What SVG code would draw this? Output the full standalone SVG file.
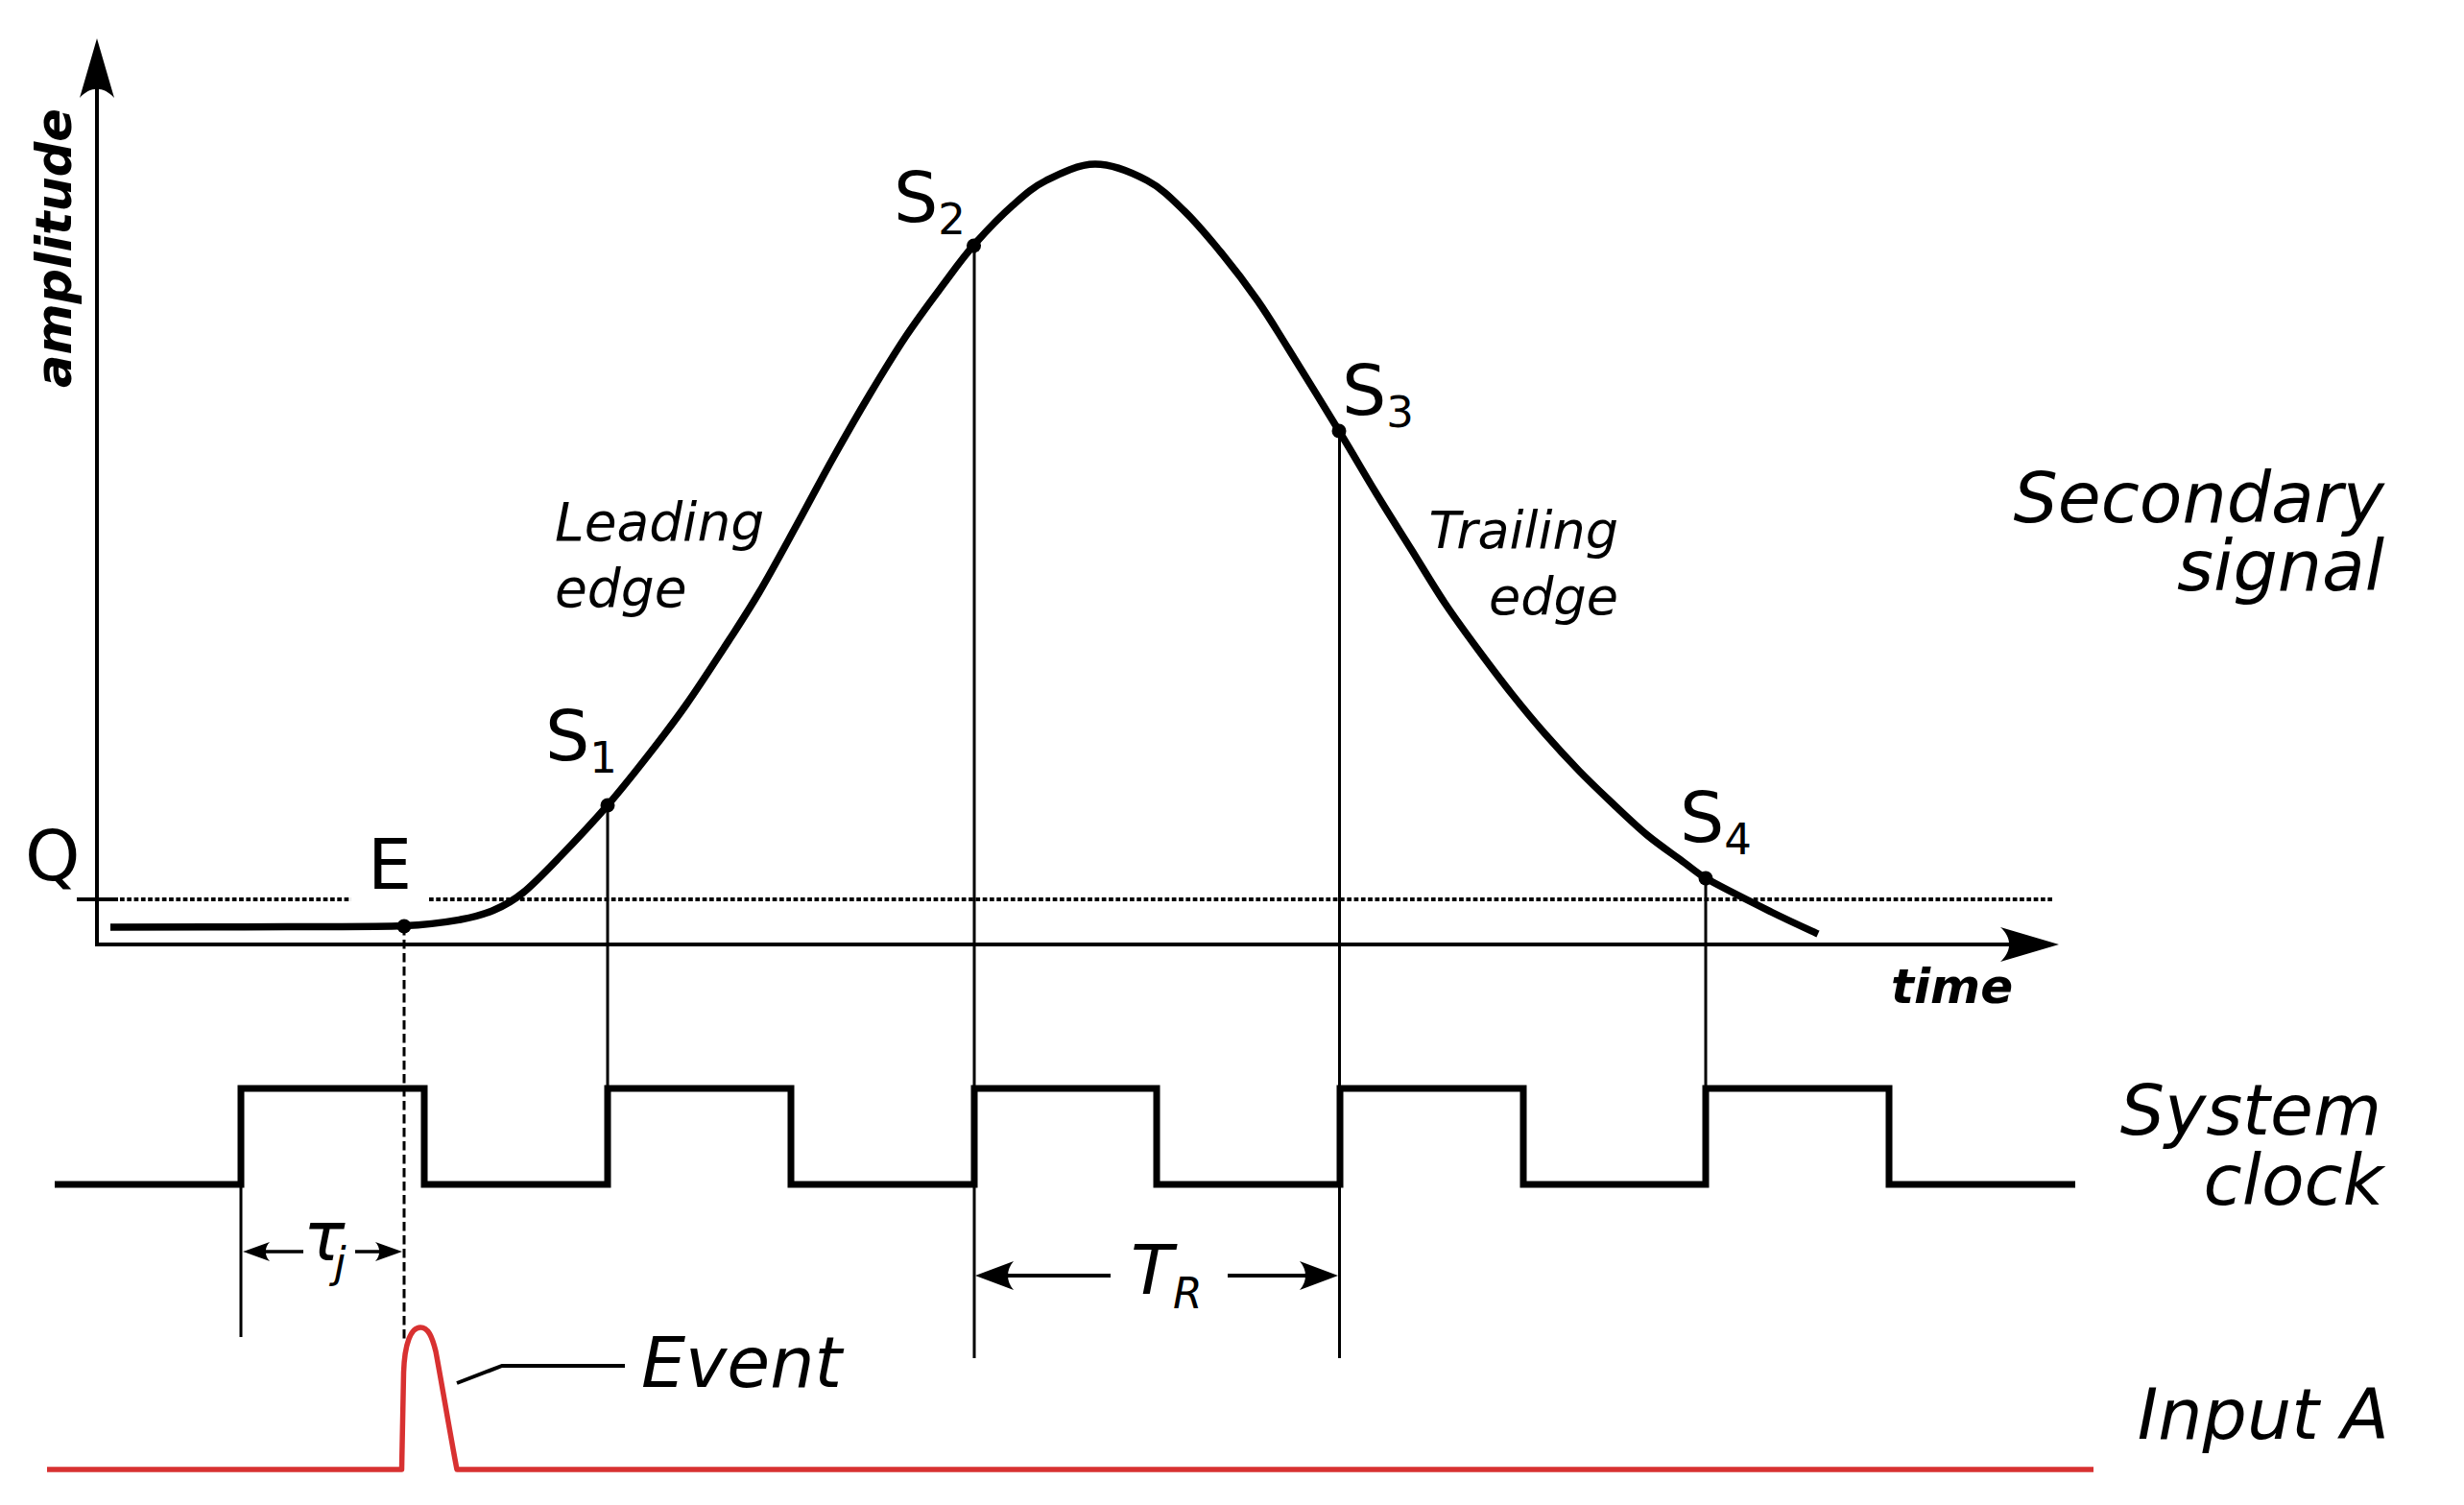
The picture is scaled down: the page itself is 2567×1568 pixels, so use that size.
<svg xmlns="http://www.w3.org/2000/svg" width="2567" height="1568" viewBox="0 0 2567 1568">
<style>
.t{font-family:"DejaVu Sans","Liberation Sans",sans-serif;fill:#000}
.it{font-style:oblique}
.b{font-weight:bold}
.thin{stroke:#000;stroke-width:3;fill:none}
.ax{stroke:#000;stroke-width:4;fill:none}
.sig{stroke:#000;stroke-width:7.5;fill:none;stroke-linejoin:round}
.clk{stroke:#000;stroke-width:7;fill:none;stroke-linejoin:miter}
.red{stroke:#d83131;stroke-width:5.5;fill:none;stroke-linejoin:round}
.dot{fill:#000}
</style>
<defs>
<path id="ah" d="M0 0L-1 -1C-0.8 -0.4 -0.8 0.4 -1 1Z"/>
</defs>
<rect width="2567" height="1568" fill="#fff"/>
<g id="axes">
<path class="ax" d="M101 90V984H2110"/>
<use href="#ah" transform="translate(101 40) rotate(-90) scale(62 18)"/>
<use href="#ah" transform="translate(2145 984) scale(61 18)"/>
<path d="M80 937H123" stroke="#000" stroke-width="4"/>
<path d="M125 937H366M447 937H2140" stroke="#000" stroke-width="4" stroke-dasharray="4.7 2.6"/>
<text class="t it b" font-size="51" transform="translate(74 404) rotate(-90)">amplitude</text>
<text class="t it b" font-size="50" x="1970" y="1045">time</text>
<text class="t" font-size="73" x="26" y="917">Q</text>
</g>
<g id="secondary-signal">
<path class="sig" d="M115 966C145.8 965.9 249 965.75 300 965.5C351 965.25 391 965.75 421 964.5C451 963.25 464.3 960.75 480 958C495.7 955.25 504.2 952.7 515 948C525.8 943.3 533.7 939.2 545 930C556.3 920.8 568.3 908.2 583 893C597.7 877.8 617.5 856.8 633 839C648.5 821.2 662.3 803.5 676 786C689.7 768.5 702.2 752.2 715 734C727.8 715.8 740.3 696.5 753 677C765.7 657.5 778.2 638.7 791 617C803.8 595.3 817.2 570.3 830 547C842.8 523.7 855.3 499.7 868 477C880.7 454.3 893.3 432.2 906 411C918.7 389.8 931.2 369.2 944 350C956.8 330.8 971.3 311.7 983 296C994.7 280.3 1002 269.7 1014 256C1026 242.3 1042.3 225.3 1055 214C1067.7 202.7 1075.7 195.2 1090 188C1104.3 180.8 1123.5 171 1141 171C1158.5 171 1179.5 179.8 1195 188C1210.5 196.2 1221.2 207.5 1234 220C1246.8 232.5 1259.3 247.5 1272 263C1284.7 278.5 1298.3 296.3 1310 313C1321.7 329.7 1327.8 340.3 1342 363C1356.2 385.7 1379.5 423.5 1395 449C1410.5 474.5 1422.5 495.5 1435 516C1447.5 536.5 1458.3 553.3 1470 572C1481.7 590.7 1493.3 610.5 1505 628C1516.7 645.5 1528.3 661.2 1540 677C1551.7 692.8 1563.3 708.3 1575 723C1586.7 737.7 1598.3 751.7 1610 765C1621.7 778.3 1633.2 790.8 1645 803C1656.8 815.2 1669.2 826.8 1681 838C1692.8 849.2 1704.3 860.3 1716 870C1727.7 879.7 1740.8 888.5 1751 896C1761.2 903.5 1769.2 910.5 1777 915C1792.7 924 1825.5 940.3 1845 950C1864.5 959.7 1885.8 969.2 1894 973"/>
<text class="t it" font-size="55" x="578" y="563">Leading</text>
<text class="t it" font-size="55" x="578" y="632">edge</text>
<text class="t it" font-size="54" x="1686" y="571" text-anchor="end">Trailing</text>
<text class="t it" font-size="54" x="1686" y="640" text-anchor="end">edge</text>
<text class="t it" font-size="73" x="2484" y="544" text-anchor="end">Secondary</text>
<text class="t it" font-size="73" x="2484" y="615" text-anchor="end">signal</text>
</g>
<g id="sample-points">
<circle class="dot" cx="421" cy="965" r="7.5"/>
<circle class="dot" cx="633" cy="839" r="7.5"/>
<circle class="dot" cx="1014.5" cy="256" r="7.5"/>
<circle class="dot" cx="1395" cy="449" r="7.5"/>
<circle class="dot" cx="1777" cy="915" r="7.5"/>
<text class="t" font-size="73" x="383" y="926">E</text>
<text class="t" font-size="73" x="568" y="792">S<tspan font-size="45" dy="13">1</tspan></text>
<text class="t" font-size="73" x="931" y="231">S<tspan font-size="45" dy="13">2</tspan></text>
<text class="t" font-size="73" x="1398" y="432">S<tspan font-size="45" dy="13">3</tspan></text>
<text class="t" font-size="73" x="1750" y="877">S<tspan font-size="45" dy="13">4</tspan></text>
</g>
<g id="system-clock">
<path class="clk" d="M57 1234H251V1134H442V1234H633V1134H824V1234H1015V1134H1205V1234H1396V1134H1587V1234H1777V1134H1968V1234H2162"/>
<text class="t it" font-size="73" x="2481" y="1182" text-anchor="end">System</text>
<text class="t it" font-size="73" x="2483" y="1255" text-anchor="end">clock</text>
</g>
<g id="input-a">
<path class="red" d="M49 1531H418.5L420.5 1430C421.5 1400 428 1383 438 1383C446 1383 450 1392 454 1408C460 1440 470 1500 476 1531H2181"/>
<text class="t it" font-size="73" x="2489" y="1499" text-anchor="end">Input A</text>
<path d="M476 1441L523 1423H651" stroke="#000" stroke-width="4" fill="none"/>
<text class="t it" font-size="73" x="668" y="1445">Event</text>
</g>
<g id="connectors">
<path class="thin" d="M251 1234V1393M633 839V1134M1015 256V1415M1395.5 449V1415M1777 915V1134"/>
<path class="thin" d="M421 965V1398" stroke-dasharray="9.5 4.5"/>
<path d="M1030 1329H1157M1279 1329H1380" stroke="#000" stroke-width="4"/>
<use href="#ah" transform="translate(1016 1329) rotate(180) scale(40 15)"/>
<use href="#ah" transform="translate(1394 1329) scale(40 15)"/>
<text class="t it" font-size="72" x="1178" y="1348">T<tspan font-size="44" dy="15">R</tspan></text>
<path d="M262 1304H316M370 1304H410" stroke="#000" stroke-width="3.5"/>
<use href="#ah" transform="translate(253 1304) rotate(180) scale(28 10)"/>
<use href="#ah" transform="translate(419 1304) scale(28 10)"/>
<text class="t it" font-size="72" x="316" y="1313">τ<tspan font-size="45" x="348" y="1331">j</tspan></text>
</g>
</svg>
